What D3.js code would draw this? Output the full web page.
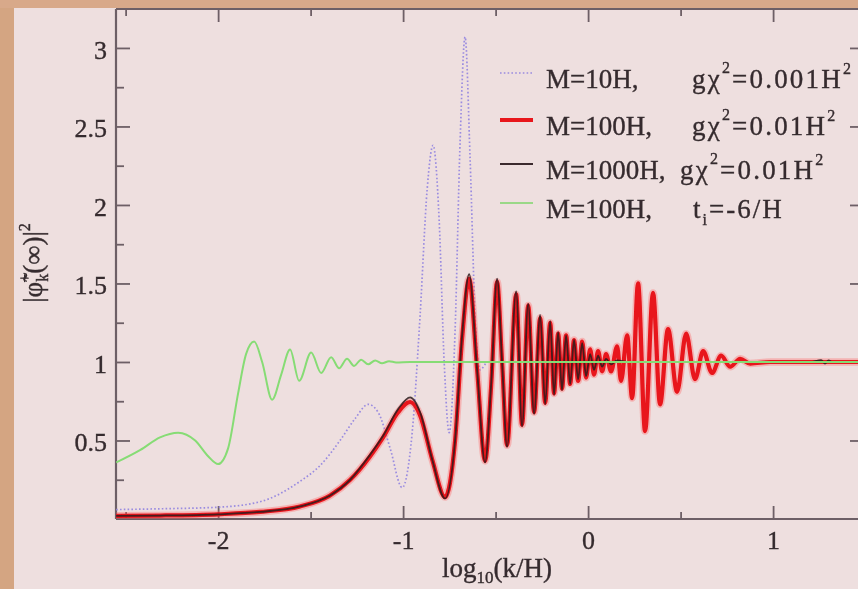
<!DOCTYPE html>
<html>
<head>
<meta charset="utf-8">
<script src="https://cdn.jsdelivr.net/npm/d3@7"></script>
<style>
html,body{margin:0;padding:0;background:#eedfdf;}
svg{display:block;}
text{font-family:"Liberation Serif","Times New Roman",serif;fill:#352b2e;stroke:#352b2e;stroke-width:0.35px;}
</style>
</head>
<body>
<svg id="chart" width="858" height="589"></svg>
<script>
// ---- data (x = log10(k/H), y = |phi_k^+(inf)|^2) ----
const dottedX = [-2.551,-2.314,-2.0,-1.773,-1.557,-1.449,-1.341,-1.259,-1.189,-1.135,-1.070,-1.005,-0.951,-0.908,-0.870,-0.838,-0.805,-0.778,-0.751,-0.719,-0.692,-0.665,-0.638,-0.611,-0.584,-0.541,1.459];
const dottedY = [0.06,0.065,0.075,0.11,0.24,0.34,0.50,0.64,0.73,0.68,0.45,0.20,0.55,1.3,2.1,2.38,1.9,1.0,0.55,1.2,2.4,3.07,2.3,1.3,0.95,1.0,1.0];

const redX = [-2.551,-2.314,-2.0,-1.773,-1.557,-1.395,-1.286,-1.178,-1.108,-1.027,-0.962,-0.908,-0.843,-0.773,-0.719,-0.681,-0.643,-0.600,-0.557,-0.524,-0.492,-0.465,-0.438,-0.389,-0.357,-0.324,-0.292,-0.259,-0.232,-0.205,-0.184,-0.162,-0.141,-0.119,-0.097,-0.076,-0.054,-0.032,-0.011,0.011,0.032,0.054,0.076,0.097,0.124,0.157,0.178,0.211,0.238,0.270,0.308,0.351,0.389,0.432,0.481,0.530,0.578,0.622,0.670,0.719,0.768,0.822,0.876,0.984,1.459];
const redY = [0.02,0.022,0.03,0.045,0.08,0.15,0.25,0.40,0.52,0.68,0.745,0.66,0.38,0.14,0.50,1.15,1.53,0.95,0.37,0.85,1.51,1.0,0.47,1.43,0.60,1.36,0.68,1.28,0.74,1.25,0.80,1.18,0.83,1.17,0.86,1.14,0.88,1.13,0.90,1.08,0.92,1.07,0.94,1.05,0.94,1.10,0.88,1.17,0.77,1.50,0.56,1.44,0.73,1.21,0.81,1.18,0.89,1.07,0.93,1.04,0.97,1.02,0.99,1.0,1.0];

const blackX = [-2.551,-2.314,-2.0,-1.773,-1.557,-1.395,-1.286,-1.178,-1.108,-1.027,-0.962,-0.908,-0.843,-0.773,-0.719,-0.681,-0.643,-0.600,-0.557,-0.524,-0.492,-0.465,-0.438,-0.389,-0.357,-0.324,-0.292,-0.259,-0.232,-0.205,-0.184,-0.162,-0.141,-0.119,-0.097,-0.076,-0.054,-0.032,-0.011,0.011,0.032,0.054,0.076,0.097,0.124,0.157,0.211,1.2,1.26,1.28,1.30,1.32,1.459];
const blackY = [0.02,0.022,0.03,0.045,0.08,0.15,0.25,0.41,0.53,0.70,0.775,0.68,0.38,0.13,0.50,1.17,1.56,0.95,0.36,0.86,1.53,1.0,0.46,1.45,0.59,1.37,0.67,1.30,0.73,1.26,0.79,1.19,0.82,1.17,0.86,1.14,0.89,1.12,0.91,1.05,0.95,1.04,0.97,1.02,0.985,1.01,1.0,1.0,1.012,0.99,1.01,1.0,1.0];

const greenX = [-2.551,-2.42,-2.314,-2.216,-2.124,-2.054,-2.0,-1.946,-1.892,-1.849,-1.805,-1.762,-1.708,-1.659,-1.611,-1.562,-1.497,-1.443,-1.389,-1.346,-1.303,-1.265,-1.227,-1.189,-1.151,-1.114,-1.076,-1.038,-0.962,1.459];
const greenY = [0.36,0.44,0.52,0.55,0.50,0.40,0.35,0.45,0.80,1.05,1.13,1.0,0.76,0.92,1.08,0.88,1.06,0.93,1.03,0.96,1.02,0.975,1.015,0.985,1.01,0.992,1.005,0.997,1.0,1.0];

const xMajorTicks = [-2,-1,0,1];
const xMajorLabels = ["-2","-1","0","1"];
const xMinorTicks = [-2.5,-1.5,-0.5,0.5];
const yMajorTicks = [0.5,1,1.5,2,2.5,3];
const yMajorLabels = ["0.5","1","1.5","2","2.5","3"];
const yMinorTicks = [0.25,0.75,1.25,1.75,2.25,2.75];

const legendNames = ["M=10H,","M=100H,","M=1000H,","M=100H,"];
const legendCoupling = ["0.001","0.01","0.01"];

// ---- drawing ----
const svg = d3.select("#chart");
const defs = svg.append("defs");
defs.append("filter").attr("id","soft").append("feGaussianBlur").attr("stdDeviation",0.6);
defs.append("clipPath").attr("id","plotclip").append("rect")
  .attr("x",116).attr("y",9).attr("width",742).attr("height",510);

svg.append("rect").attr("width",858).attr("height",589).attr("fill","#eedfdf");
svg.append("rect").attr("x",0).attr("y",0).attr("width",14).attr("height",589).attr("fill","#d4a582");
svg.append("rect").attr("x",0).attr("y",0).attr("width",858).attr("height",8).attr("fill","#d8a98a");

const g = svg.append("g").attr("filter","url(#soft)");

const x = d3.scaleLinear().domain([-2.552, 1.459]).range([116, 858]);
const y = d3.scaleLinear().domain([0, 3.248]).range([519, 9]);

const axisColor = "#6d5f66";

// frame lines
g.append("line").attr("x1",x.range()[0]).attr("x2",x.range()[1]).attr("y1",y(0)).attr("y2",y(0))
  .attr("stroke",axisColor).attr("stroke-width",2.2);
g.append("line").attr("x1",x.range()[0]).attr("x2",x.range()[1]).attr("y1",y.range()[1]).attr("y2",y.range()[1])
  .attr("stroke",axisColor).attr("stroke-width",2.2);
g.append("line").attr("x1",x.range()[0]).attr("x2",x.range()[0]).attr("y1",y.range()[0]).attr("y2",y.range()[1])
  .attr("stroke",axisColor).attr("stroke-width",2.2);

function styleTicks(sel){
  sel.select(".domain").remove();
  sel.selectAll(".tick line").attr("stroke",axisColor).attr("stroke-width",1.8);
}

// bottom axis (ticks inward) and top mirror
const xb = d3.axisBottom(x).tickValues(xMajorTicks).tickSize(-13).tickPadding(12)
  .tickFormat((d,i)=>xMajorLabels[i]);
const xAxisG = g.append("g").attr("transform",`translate(0,${y(0)})`).call(xb);
styleTicks(xAxisG);
xAxisG.selectAll(".tick text").attr("font-size",26).attr("fill",null)
  .attr("font-family",null);
styleTicks(g.append("g").attr("transform",`translate(0,${y(0)})`)
  .call(d3.axisBottom(x).tickValues(xMinorTicks).tickSize(-7).tickFormat("")));
styleTicks(g.append("g").attr("transform",`translate(0,${y.range()[1]})`)
  .call(d3.axisTop(x).tickValues(xMajorTicks).tickSize(-13).tickFormat("")));
styleTicks(g.append("g").attr("transform",`translate(0,${y.range()[1]})`)
  .call(d3.axisTop(x).tickValues(xMinorTicks).tickSize(-7).tickFormat("")));

// left axis
const ya = d3.axisLeft(y).tickValues(yMajorTicks).tickSize(-14).tickPadding(9)
  .tickFormat((d,i)=>yMajorLabels[i]);
const yAxisG = g.append("g").attr("transform",`translate(${x.range()[0]},0)`).call(ya);
styleTicks(yAxisG);
yAxisG.selectAll(".tick text").attr("font-size",26).attr("fill",null)
  .attr("font-family",null).attr("dy","0.4em");
styleTicks(g.append("g").attr("transform",`translate(${x.range()[0]},0)`)
  .call(d3.axisLeft(y).tickValues(yMinorTicks).tickSize(-8).tickFormat("")));
// right mirror axis (just beyond the picture edge, ticks reach inward)
styleTicks(g.append("g").attr("transform","translate(866,0)")
  .call(d3.axisRight(y).tickValues(yMajorTicks).tickSize(-16).tickFormat("")));

// curves
const toPts = (xs, ys) => xs.map((v,i)=>[v, ys[i]]);
const line = d3.line().x(d=>x(d[0])).y(d=>y(d[1])).curve(d3.curveMonotoneX);
const plot = g.append("g").attr("clip-path","url(#plotclip)");

plot.append("path").attr("d", line(toPts(dottedX, dottedY)))
  .attr("fill","none").attr("stroke","#9a8ce0").attr("stroke-width",1.7).attr("stroke-dasharray","1.6,2.2");
plot.append("path").attr("d", line(toPts(redX, redY)))
  .attr("fill","none").attr("stroke","#ff6060").attr("stroke-opacity",0.35).attr("stroke-width",7.5);
plot.append("path").attr("d", line(toPts(redX, redY)))
  .attr("fill","none").attr("stroke","#e8121a").attr("stroke-width",4.2);
plot.append("path").attr("d", line(toPts(blackX, blackY)))
  .attr("fill","none").attr("stroke","#2a1c1e").attr("stroke-width",1.8).attr("stroke-opacity",0.85);
plot.append("path").attr("d", line(toPts(greenX, greenY)))
  .attr("fill","none").attr("stroke","#86dc74").attr("stroke-width",2);

// legend
const legRowsY = [79, 126, 170, 209];
const legStyles = [
  {stroke:"#9a8ce0", w:1.7, dash:"1.6,2.2"},
  {stroke:"#e8121a", w:4.2, dash:null},
  {stroke:"#3a2c2e", w:2.2, dash:null},
  {stroke:"#9ad888", w:2, dash:null}
];
const leg = g.append("g");
legRowsY.forEach((ry,i)=>{
  const s = legStyles[i];
  const l = leg.append("line").attr("x1",500).attr("x2",533).attr("y1",ry-6).attr("y2",ry-6)
    .attr("stroke",s.stroke).attr("stroke-width",s.w);
  if (s.dash) l.attr("stroke-dasharray",s.dash);
  leg.append("text").attr("x",546).attr("y",ry+9).attr("font-size",27).text(legendNames[i]);
});
function chi(t, xx, yy, val){
  const tx = t.append("text").attr("x",xx).attr("y",yy).attr("font-size",27).attr("letter-spacing",2.2);
  tx.append("tspan").text("gχ");
  tx.append("tspan").attr("font-size",16).attr("dy",-15).text("2");
  tx.append("tspan").attr("dy",15).text("=" + val + "H");
  tx.append("tspan").attr("font-size",16).attr("dy",-14).text("2");
}
chi(leg, 692, legRowsY[0]+9, legendCoupling[0]);
chi(leg, 692, legRowsY[1]+9, legendCoupling[1]);
chi(leg, 680, legRowsY[2]+9, legendCoupling[2]);
{
  const tx = leg.append("text").attr("x",693).attr("y",legRowsY[3]+9).attr("font-size",27).attr("letter-spacing",2);
  tx.append("tspan").text("t");
  tx.append("tspan").attr("font-size",16).attr("dy",7).text("i");
  tx.append("tspan").attr("dy",-7).text("=-6/H");
}

// x label
{
  const tx = g.append("text").attr("x",497).attr("y",577).attr("font-size",27).attr("text-anchor","middle");
  tx.append("tspan").text("log");
  tx.append("tspan").attr("font-size",17).attr("dy",6).text("10");
  tx.append("tspan").attr("dy",-6).text("(k/H)");
}
// y label
{
  const tx = g.append("text").attr("transform","translate(42,263) rotate(-90)")
    .attr("font-size",27).attr("text-anchor","middle");
  tx.append("tspan").text("|φ\u0303");
  tx.append("tspan").attr("font-size",16).attr("dy",6).text("k");
  tx.append("tspan").attr("font-size",16).attr("dy",-18).attr("dx",-9).text("+");
  tx.append("tspan").attr("dy",12).text("(∞)|");
  tx.append("tspan").attr("font-size",16).attr("dy",-12).text("2");
}
</script>
</body>
</html>
